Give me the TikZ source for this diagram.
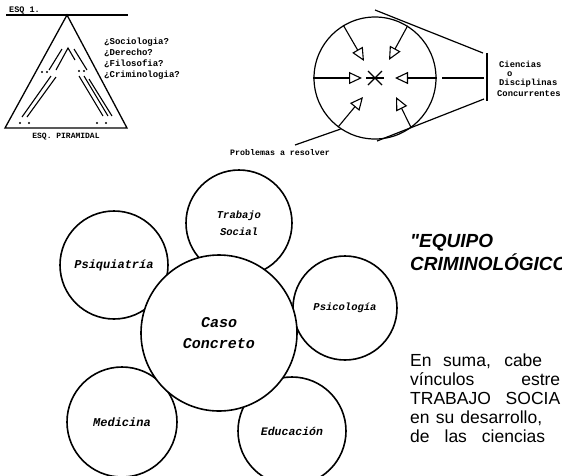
\documentclass[tikz,border=0pt]{standalone}
\usepackage{fontspec}
\setmainfont{Liberation Sans}
\newfontfamily\monof{Liberation Mono}
\newfontfamily\sansf{Liberation Sans}
\usetikzlibrary{arrows.meta}
\begin{document}
\begin{tikzpicture}[x=1pt,y=-1pt,
  mono/.style={font=\monof\bfseries\fontsize{9}{10}\selectfont, inner sep=0pt},
  small/.style={mono, anchor=base west, font=\monof\bfseries\fontsize{8.8}{10}\selectfont},
  cname/.style={font=\monof\bfseries\itshape\fontsize{12}{14}\selectfont},
  ring/.style={circle, draw, line width=1.6pt, inner sep=0pt, align=center},
  ln/.style={line width=1.1pt},
  arr/.style={line width=1.1pt, -{Triangle[open,length=13pt,width=12pt,line width=1.1pt]}},
  para/.style={font=\sansf\fontsize{17.5}{19}\selectfont, anchor=base west, inner sep=0pt},
  head/.style={font=\sansf\bfseries\itshape\fontsize{19}{20}\selectfont, anchor=base west, inner sep=0pt}]
\useasboundingbox[fill=white] (0,0) rectangle (562,475);

% ---------- Pyramid ----------
\coordinate (tl) at (6,15);
\coordinate (tr) at (128,15);
\coordinate (apex) at (67,15);
\coordinate (bl) at (5,128);
\coordinate (br) at (127,128);
\draw[line width=1.4pt] (tl) -- (tr);
\node[mono, anchor=base west, font=\monof\bfseries\fontsize{8.5}{10}\selectfont] (esq1) at (9,12) {ESQ 1.};
\draw[line width=1.3pt, line join=miter] (apex) -- (bl) -- (br) -- cycle;
\draw[ln] (49,70) -- (62,49);
\draw[ln] (56,70) -- (68,48) -- (75,60);
\draw[ln] (74,49) -- (87,70);
\draw[ln] (51,76) -- (22,117);
\draw[ln] (56,77) -- (27,117);
\draw[ln] (79,76) -- (103,116);
\draw[ln] (84,76) -- (108,116);
\draw[ln] (89,79) -- (112,116);
\foreach \p in {(42,72),(47,72),(79,71),(84,71),(20,123),(29,123),(97,123),(106,123)}
  \fill \p circle (1.1);
\node[mono, font=\monof\bfseries\fontsize{8}{10}\selectfont] (piram) at (66,137) {ESQ. PIRAMIDAL};
\node[mono, anchor=west] (q1) at (104,42) {¿Sociologia?};
\node[mono, anchor=west] (q2) at (104,53) {¿Derecho?};
\node[mono, anchor=west] (q3) at (104,64) {¿Filosofia?};
\node[mono, anchor=west] (q4) at (104,75) {¿Criminologia?};

% ---------- Circle with arrows ----------
\node[circle, draw, line width=1.2pt, minimum size=122pt, inner sep=0pt] (disc) at (375,78) {};
\coordinate (tTL) at (364,61);
\coordinate (tTR) at (389,60);
\coordinate (tML) at (362,78);
\coordinate (tMR) at (395,78);
\coordinate (tBL) at (363,97);
\coordinate (tBR) at (396,97);
\draw[arr] (disc.121) -- (tTL);
\draw[arr] (disc.58) -- (tTR);
\draw[arr] (disc.west) -- (tML);
\draw[arr] (disc.east) -- (tMR);
\draw[arr] (disc.233) -- (tBL);
\draw[arr] (disc.306) -- (tBR);
\coordinate (star) at (375,78);
\draw[line width=1.3pt] ([shift={(-7,-7)}]star) -- ([shift={(7,7)}]star);
\draw[line width=1.3pt] ([shift={(-7,7)}]star) -- ([shift={(7,-7)}]star);
\draw[line width=1.1pt] ([shift={(-9,0)}]star) -- ([shift={(9,0)}]star);

\coordinate (tg1a) at (375,10);
\coordinate (tg1b) at (483,53);
\coordinate (tg2a) at (377,141);
\coordinate (tg2b) at (484,99);
\coordinate (mida) at (442,78);
\coordinate (midb) at (484,78);
\coordinate (bara) at (487,53);
\coordinate (barb) at (487,101);
\draw[line width=1.2pt] (tg1a) -- (tg1b);
\draw[line width=1.2pt] (tg2a) -- (tg2b);
\draw[line width=1.1pt] (mida) -- (midb);
\draw[line width=1.3pt] (bara) -- (barb);
\node[small] (cien) at (499,67) {Ciencias};
\node[small] (oo) at (507,76) {o};
\node[small] (disci) at (499,85) {Disciplinas};
\node[small] (concu) at (497,96) {Concurrentes};

\node[mono, anchor=west, font=\monof\bfseries\fontsize{8.3}{10}\selectfont] (prob) at (230,153) {Problemas a resolver};
\coordinate (probl) at (295,145);
\draw[line width=1.2pt] (probl) -- (disc.236);

% ---------- Bottom cluster ----------
\node[ring, cname, minimum size=108pt] (psiq) at (114,265) {Psiquiatría};
\node[ring, cname, minimum size=106pt, font=\monof\bfseries\itshape\fontsize{10.5}{17}\selectfont] (trab) at (239,223) {Trabajo\\Social};
\node[ring, cname, minimum size=104pt, font=\monof\bfseries\itshape\fontsize{10.5}{12}\selectfont] (psico) at (345,308) {Psicología};
\node[ring, cname, minimum size=110pt] (medi) at (122,422) {Medicina};
\node[ring, cname, minimum size=108pt, font=\monof\bfseries\itshape\fontsize{11.5}{13}\selectfont] (educ) at (292,431) {Educación};
\node[ring, fill=white, minimum size=156pt, font=\monof\bfseries\itshape\fontsize{15}{21}\selectfont] (caso) at (219,333) {Caso\\Concreto};

% ---------- Right text ----------
\node[head] (equipo) at (410,247) {"EQUIPO};
\node[head] (crimi) at (410,270) {CRIMINOLÓGICO};
\node[para] (l1) at (410,366) {\makebox[132pt][s]{En suma, cabe}};
\node[para] (l2) at (410,385) {\makebox[150pt][s]{vínculos estre}};
\node[para] (l3) at (410,404) {\makebox[150pt][s]{TRABAJO SOCIA}};
\node[para] (l4) at (410,423) {\makebox[132pt][s]{en su desarrollo,}};
\node[para] (l5) at (410,442) {\makebox[135pt][s]{de las ciencias}};
\end{tikzpicture}
\end{document}
